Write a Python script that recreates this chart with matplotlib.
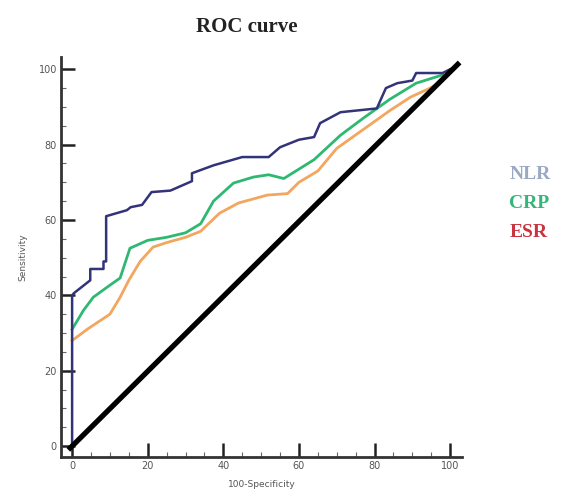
import matplotlib
matplotlib.use("Agg")
import matplotlib.pyplot as plt
from matplotlib.ticker import MultipleLocator

# ---- data ----
nlr_x = [0, 0, 0.5, 4.8, 4.8, 8.3, 8.3, 9, 9, 14.5, 15.5, 18.5, 21, 26, 31.7, 31.7, 37.4, 45, 52, 55, 60, 64, 65.6, 71, 80.6, 83, 86, 90, 91, 98, 100]
nlr_y = [0, 40, 40.6, 44, 47, 47, 49, 49, 61, 62.6, 63.4, 64, 67.4, 67.8, 70.3, 72.4, 74.5, 76.7, 76.7, 79.3, 81.3, 82, 85.7, 88.6, 89.6, 95, 96.3, 97, 99, 99, 100]

crp_x = [0, 3, 5.6, 10, 12.7, 15.3, 20, 25, 30, 34, 37.4, 42.7, 48, 52, 56, 60, 64, 71, 77, 84, 91, 98]
crp_y = [31, 36, 39.5, 42.7, 44.6, 52.5, 54.6, 55.4, 56.6, 59, 65, 69.8, 71.4, 72, 71, 73.5, 76, 82.5, 87, 92, 96.3, 98.5]

esr_x = [0, 4, 10, 12.7, 15, 18, 21.4, 25, 30, 34, 39, 44, 51.6, 57, 60, 65, 70, 77, 84, 89.5, 94.7, 98]
esr_y = [28, 31, 35, 39.5, 44, 49, 52.8, 54, 55.4, 57, 61.8, 64.5, 66.6, 67, 70, 73, 79, 84, 89, 92.6, 95, 97]

diag_x = [-1, 102.5]
diag_y = [-1, 101.8]

legend_labels = ["NLR", "CRP", "ESR"]
legend_colors = ["#9aa8c4", "#35b57a", "#c8343f"]

# ---- figure ----
fig = plt.figure(figsize=(5.61, 4.93), dpi=100)
ax = fig.add_axes([0.109, 0.073, 0.715, 0.811])

ax.plot(esr_x, esr_y, color="#f2a65e", lw=2)
ax.plot(crp_x, crp_y, color="#2fb872", lw=2)
ax.plot(nlr_x, nlr_y, color="#33337a", lw=1.8)
ax.plot(diag_x, diag_y, color="black", lw=3.8, solid_capstyle="butt")

ax.set_xlim(-2.9, 103.2)
ax.set_ylim(-2.9, 103.2)
ax.set_xticks([0, 20, 40, 60, 80, 100])
ax.set_yticks([0, 20, 40, 60, 80, 100])
ax.xaxis.set_minor_locator(MultipleLocator(5))
ax.yaxis.set_minor_locator(MultipleLocator(5))
ax.tick_params(which="major", direction="in", length=10, width=1.8, colors="#222222",
               labelsize=7, labelcolor="#555555", pad=3)
ax.tick_params(which="minor", direction="in", length=3.5, width=0.8, colors="#666666")

for s in ["top", "right"]:
    ax.spines[s].set_visible(False)
for s in ["left", "bottom"]:
    ax.spines[s].set_linewidth(2)
    ax.spines[s].set_color("#333333")

ax.set_xlabel("100-Specificity", fontsize=6.5, color="#555555", labelpad=6)
ax.set_ylabel("Sensitivity", fontsize=6.5, color="#555555", labelpad=8)

fig.text(0.44, 0.945, "ROC curve", fontsize=15, fontweight="bold",
         family="Liberation Serif", color="#222222", ha="center", va="center")

for lab, col, yy in zip(legend_labels, legend_colors, [0.647, 0.588, 0.529]):
    fig.text(0.908, yy, lab, fontsize=14, fontweight="bold", family="Liberation Serif",
             color=col, ha="left", va="center")

fig.savefig("out.png", dpi=100)
